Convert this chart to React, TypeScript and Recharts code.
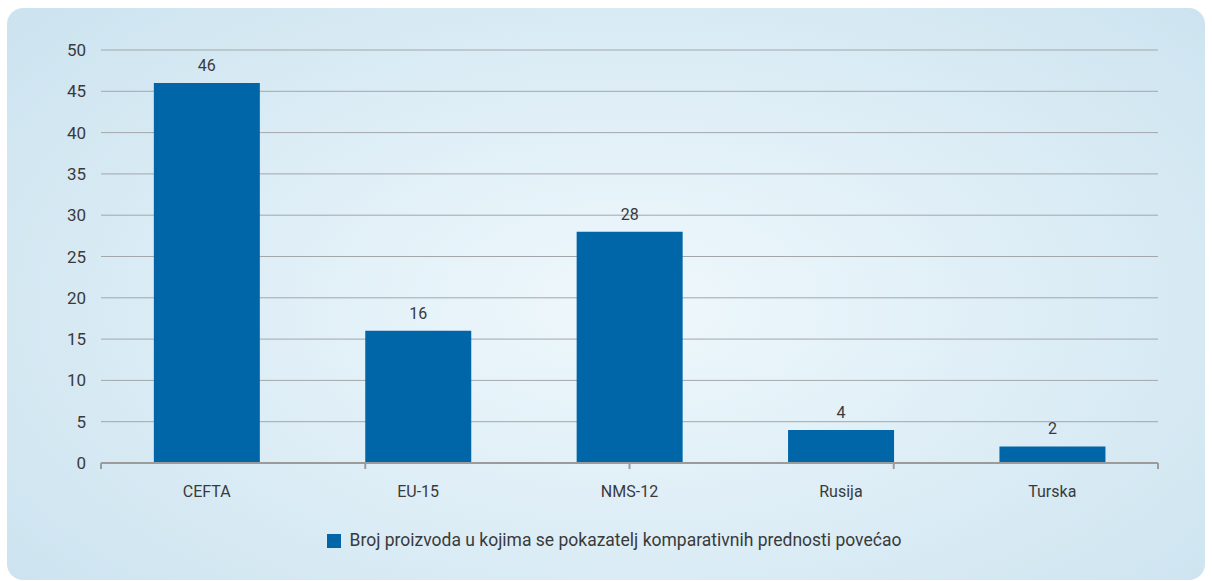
import { Bar, BarChart, CartesianGrid, LabelList, Legend, XAxis, YAxis } from 'recharts'

const regions = ['CEFTA', 'EU-15', 'NMS-12', 'Rusija', 'Turska']
const products = [46, 16, 28, 4, 2]
const yTicks = [0, 5, 10, 15, 20, 25, 30, 35, 40, 45, 50]
const edgeTicks = [0, 1, 2, 3, 4, 5]
const seriesName = 'Broj proizvoda u kojima se pokazatelj komparativnih prednosti povećao'

const data = regions.map((name, i) => ({ name, value: products[i] }))

const BAR = '#0066a8'
const TEXT = '#3a3a3a'
const FONT = 'Roboto, "DejaVu Sans", sans-serif'

export default function App() {
  return (
    <div style={{ position: 'absolute', left: 0, top: 0, width: 1212, height: 581, fontFamily: FONT }}>
      <div
        style={{
          position: 'absolute', left: 7, top: 8, width: 1198, height: 572, borderRadius: 16,
          background: 'radial-gradient(ellipse 65% 75% at 52% 52%, #eff8fc 0%, #e0eff7 45%, #cde4f0 100%)',
        }}
      />
      <BarChart
        width={1212}
        height={581}
        data={data}
        margin={{ top: 50, right: 54, left: 0, bottom: 0 }}
        barCategoryGap="25%"
        style={{ position: 'absolute', left: 0, top: 0 }}
      >
        <CartesianGrid xAxisId="b_cat" vertical={false} stroke="#a3a7aa" strokeWidth={1} />
        {/* numeric axis only used for the tick marks between categories */}
        <XAxis
          xAxisId="a_edge"
          type="number"
          domain={[0, 5]}
          ticks={edgeTicks}
          height={1}
          tick={() => <g />}
          axisLine={{ stroke: '#9b9b9b', strokeWidth: 2 }}
          tickLine={{ stroke: '#9b9b9b', strokeWidth: 2 }}
          tickSize={6}
        />
        <XAxis
          xAxisId="b_cat"
          dataKey="name"
          height={69}
          axisLine={false}
          tickLine={false}
          tickMargin={16}
          tick={{ fill: TEXT, fontSize: 16, fontFamily: FONT }}
        />
        <YAxis
          width={101}
          domain={[0, 50]}
          ticks={yTicks}
          axisLine={false}
          tickLine={false}
          tickMargin={9}
          tick={{ fill: TEXT, fontSize: 17, fontFamily: FONT }}
        />
        <Legend
          verticalAlign="bottom"
          iconType="square"
          iconSize={14}
          height={48}
          wrapperStyle={{ fontSize: 17.5, color: TEXT, fontFamily: FONT, bottom: 3, paddingLeft: 80, boxSizing: 'border-box' }}
          formatter={(v) => <span style={{ color: TEXT, marginLeft: 5 }}>{v}</span>}
        />
        <Bar xAxisId="b_cat" dataKey="value" name={seriesName} fill={BAR} isAnimationActive={false}>
          <LabelList dataKey="value" position="top" offset={12} fill={TEXT} fontSize={16} fontFamily={FONT} />
        </Bar>
      </BarChart>
    </div>
  )
}
